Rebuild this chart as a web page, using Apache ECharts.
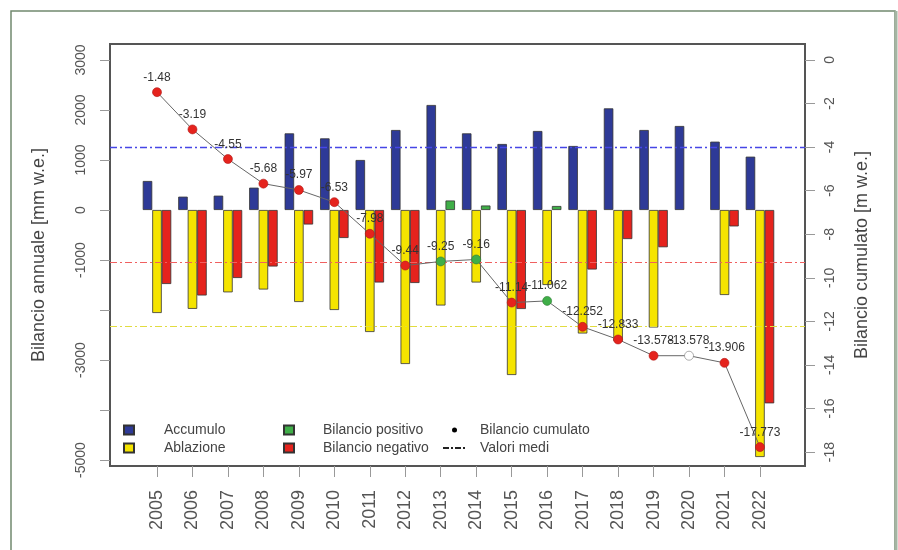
<!DOCTYPE html>
<html>
<head>
<meta charset="utf-8">
<script src="https://cdn.jsdelivr.net/npm/echarts@6/dist/echarts.min.js"></script>
<style>
  html, body { margin: 0; padding: 0; background: #fff; }
  #chart { width: 898px; height: 550px; }
</style>
</head>
<body>
<div id="chart"></div>
<script>
const years = [2005, 2006, 2007, 2008, 2009, 2010, 2011, 2012, 2013, 2014, 2015, 2016, 2017, 2018, 2019, 2020, 2021, 2022];
const accumulo = [580, 267, 287, 447, 1533, 1433, 1000, 1600, 2100, 1533, 1320, 1580, 1280, 2033, 1600, 1680, 1367, 1067];
const ablazione = [-2060, -1977, -1647, -1590, -1840, -2000, -2440, -3080, -1910, -1450, -3300, -1500, -2470, -2620, -2350, null, -1700, -4940];
const bilancioPositivo = [null, null, null, null, null, null, null, null, 190, 90, null, 80, null, null, null, null, null, null];
const bilancioNegativo = [-1480, -1710, -1360, -1130, -290, -560, -1450, -1460, null, null, -1980, null, -1190, -581, -745, null, -328, -3867];
const cumulato = [-1.48, -3.19, -4.55, -5.68, -5.97, -6.53, -7.98, -9.44, -9.25, -9.16, -11.14, -11.062, -12.252, -12.833, -13.578, -13.578, -13.906, -17.773];
// valori medi: accumulo, bilancio, ablazione
const valoriMedi = [1265, -1050, -2330];
const leftTicks = [3000, 2000, 1000, 0, -1000, -2000, -3000, -4000, -5000];
const leftLabels = [3000, 2000, 1000, 0, -1000, -3000, -5000];
const rightTicks = [0, -2, -4, -6, -8, -10, -12, -14, -16, -18];

const FONT = 'Liberation Sans, Arial, sans-serif';
const BLUE = '#2e3a97', YELLOW = '#f5e400', RED = '#e5231d', GREEN = '#3fae48';
const myChart = echarts.init(document.getElementById('chart'));

const pair = (arr) => years.map((y, i) => [y, arr[i]]);

const pointColor = (i) => {
  if (bilancioPositivo[i] != null) return { color: GREEN, borderColor: '#2a7a30' };
  if (bilancioNegativo[i] != null) return { color: RED, borderColor: '#b01818' };
  return { color: '#fff', borderColor: '#777' };
};

const barStyle = (c) => ({ color: c, borderColor: '#333', borderWidth: 0.8 });

const legendBase = {
  orient: 'vertical',
  padding: 0,
  itemGap: 0,
  selectedMode: false,
  textStyle: { fontFamily: FONT, fontSize: 14, color: '#444', lineHeight: 18 }
};

const option = {
  animation: false,
  textStyle: { fontFamily: FONT },
  graphic: [
    { type: 'rect', shape: { x: 11, y: 11, width: 884, height: 570 },
      style: { fill: 'none', stroke: '#71896f', lineWidth: 1.5 } },
    { type: 'line', shape: { x1: 896, y1: 11, x2: 896, y2: 550 },
      style: { stroke: '#a5b5a3', lineWidth: 3 } }
  ],
  grid: {
    left: 110, right: 93, top: 44, bottom: 84,
    show: true, borderColor: '#555', borderWidth: 2,
    outerBoundsMode: 'none'
  },
  legend: [
    Object.assign({}, legendBase, {
      left: 123, top: 421, itemWidth: 10, itemHeight: 9,
      textStyle: Object.assign({}, legendBase.textStyle, { padding: [0, 0, 0, 25] }),
      data: [{ name: 'Accumulo', icon: 'rect' }, { name: 'Ablazione', icon: 'rect' }]
    }),
    Object.assign({}, legendBase, {
      left: 283, top: 421, itemWidth: 10, itemHeight: 9,
      textStyle: Object.assign({}, legendBase.textStyle, { padding: [0, 0, 0, 24] }),
      data: [{ name: 'Bilancio positivo', icon: 'rect' }, { name: 'Bilancio negativo', icon: 'rect' }]
    }),
    Object.assign({}, legendBase, {
      left: 442, top: 421, itemWidth: 23, itemHeight: 5,
      textStyle: Object.assign({}, legendBase.textStyle, { padding: [0, 0, 0, 9] }),
      data: [
        { name: 'Bilancio cumulato', icon: 'circle', itemStyle: { color: '#000', borderWidth: 0 } },
        { name: 'Valori medi', itemStyle: { opacity: 0 } }
      ]
    })
  ],
  xAxis: {
    type: 'value', min: 2003.675, max: 2023.27,
    axisLine: { show: false, onZero: false },
    splitLine: { show: false },
    axisTick: { customValues: years, length: 11, lineStyle: { color: '#999' } },
    axisLabel: {
      customValues: years, rotate: 90, margin: 24,
      fontSize: 18, color: '#555', fontFamily: FONT,
      formatter: (v) => String(v)
    }
  },
  yAxis: [
    {
      type: 'value', min: -5120, max: 3320, position: 'left',
      axisLine: { show: false, onZero: false },
      splitLine: { show: false },
      axisTick: { customValues: leftTicks, length: 10, lineStyle: { color: '#999' } },
      axisLabel: {
        customValues: leftLabels, rotate: 90, margin: 22,
        fontSize: 14, color: '#555', fontFamily: FONT,
        formatter: (v) => String(v)
      },
      name: 'Bilancio annuale [mm w.e.]', nameLocation: 'middle', nameRotate: 90, nameGap: 62,
      nameTextStyle: { fontSize: 18, color: '#444', fontFamily: FONT }
    },
    {
      type: 'value', min: -18.64, max: 0.73, position: 'right',
      axisLine: { show: false, onZero: false },
      splitLine: { show: false },
      axisTick: { customValues: rightTicks, length: 10, lineStyle: { color: '#999' } },
      axisLabel: {
        customValues: rightTicks, rotate: 90, margin: 18,
        fontSize: 14, color: '#555', fontFamily: FONT,
        formatter: (v) => String(v)
      },
      name: 'Bilancio cumulato [m w.e.]', nameLocation: 'middle', nameRotate: 90, nameGap: 48,
      nameTextStyle: { fontSize: 18, color: '#444', fontFamily: FONT }
    }
  ],
  series: [
    { name: 'Accumulo', type: 'bar', barWidth: 9.5, data: pair(accumulo), itemStyle: barStyle(BLUE) },
    { name: 'Ablazione', type: 'bar', barWidth: 9.5, data: pair(ablazione), itemStyle: barStyle(YELLOW) },
    { name: 'Bilancio negativo', type: 'bar', barWidth: 9.5, stack: 'bil', data: pair(bilancioNegativo), itemStyle: barStyle(RED) },
    { name: 'Bilancio positivo', type: 'bar', barWidth: 9.5, stack: 'bil', barGap: '0%', data: pair(bilancioPositivo), itemStyle: barStyle(GREEN) },
    {
      name: 'Valori medi', type: 'line', data: [], symbol: 'none', showSymbol: false,
      lineStyle: { color: '#222', width: 1.5, type: [6, 2, 2, 2] },
      itemStyle: { color: '#222' },
      markLine: {
        silent: true, symbol: ['none', 'none'], label: { show: false }, z: 4,
        data: [
          { yAxis: valoriMedi[0], lineStyle: { color: '#4646e6', width: 1.4, type: [7, 3, 2, 3] } },
          { yAxis: valoriMedi[1], lineStyle: { color: '#f06060', width: 1.2, type: [7, 3, 2, 3] } },
          { yAxis: valoriMedi[2], lineStyle: { color: '#e2dc40', width: 1.2, type: [7, 3, 2, 3] } }
        ]
      }
    },
    {
      name: 'Bilancio cumulato', type: 'line', yAxisIndex: 1, z: 5,
      symbol: 'circle', symbolSize: 9,
      lineStyle: { color: '#666', width: 1 },
      itemStyle: { color: RED },
      label: {
        show: true, position: 'top', distance: 4,
        fontSize: 12, color: '#333', fontFamily: FONT,
        formatter: (p) => String(p.value[1])
      },
      data: years.map((y, i) => ({
        value: [y, cumulato[i]],
        itemStyle: Object.assign({ borderWidth: 0.6 }, pointColor(i))
      }))
    }
  ]
};

myChart.setOption(option);
</script>
</body>
</html>
